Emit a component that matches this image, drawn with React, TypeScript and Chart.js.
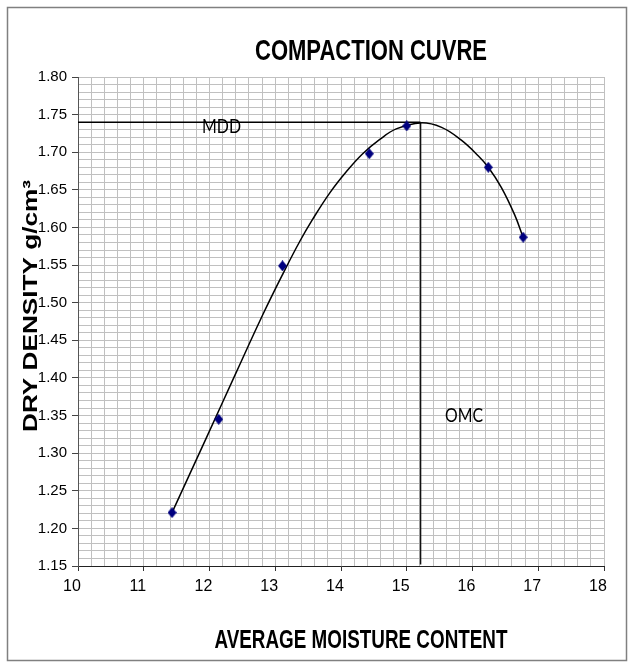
import React, { useEffect, useRef } from 'react';
import { Chart, registerables } from 'chart.js';

Chart.register(...registerables);

// ---- data ----
const moisture = [11.43, 12.14, 13.11, 14.43, 15.0, 16.24, 16.77];
const density = [1.221, 1.345, 1.549, 1.698, 1.735, 1.68, 1.587];

const curveMoisture = [11.43, 11.94, 12.41, 12.81, 13.12, 13.37, 13.57, 13.83, 14.08, 14.33, 14.59, 14.84, 15.21, 15.53, 15.83, 16.09, 16.24, 16.44, 16.64, 16.77];
const curveDensity = [1.221, 1.318, 1.408, 1.484, 1.539, 1.581, 1.611, 1.646, 1.674, 1.698, 1.717, 1.731, 1.739, 1.733, 1.716, 1.695, 1.68, 1.653, 1.617, 1.587];

const mddValue = 1.74;
const omcValue = 15.21;

const xMin = 10;
const xMax = 18;
const xMinorStep = 0.2;
const xMajorStep = 1;
const yMin = 1.15;
const yMax = 1.8;
const yMinorStep = 0.01;
const yMajorStep = 0.05;

const titleText = 'COMPACTION CUVRE';
const xTitleText = 'AVERAGE MOISTURE CONTENT';
const yTitleText = 'DRY DENSITY g/cm\u00B3';
const mddText = 'MDD';
const omcText = 'OMC';

const W = 633;
const H = 668;

function isMajor(v: number, step: number) {
  const r = v / step;
  return Math.abs(r - Math.round(r)) < 1e-6;
}

function drawFitText(
  ctx: CanvasRenderingContext2D,
  text: string,
  x: number,
  y: number,
  font: string,
  targetWidth: number,
  align: CanvasTextAlign,
  rotate: boolean
) {
  ctx.save();
  ctx.font = font;
  const w = ctx.measureText(text).width;
  const sx = targetWidth / w;
  ctx.translate(x, y);
  if (rotate) ctx.rotate(-Math.PI / 2);
  ctx.scale(sx, 1);
  ctx.textAlign = align;
  ctx.textBaseline = 'alphabetic';
  ctx.fillStyle = '#000';
  ctx.fillText(text, 0, 0);
  ctx.restore();
}

const decorPlugin = {
  id: 'decor',
  beforeDraw(chart: any) {
    const ctx = chart.ctx as CanvasRenderingContext2D;
    ctx.save();
    ctx.fillStyle = '#fff';
    ctx.fillRect(0, 0, chart.width, chart.height);
    ctx.restore();
  },
  afterDraw(chart: any) {
    const ctx = chart.ctx as CanvasRenderingContext2D;
    ctx.save();
    ctx.strokeStyle = '#808080';
    ctx.lineWidth = 1.5;
    ctx.strokeRect(7.5, 7.5, 619, 653);
    ctx.restore();

    const sans = "'Liberation Sans', Arial, sans-serif";
    drawFitText(ctx, titleText, 371, 60, `bold 30px ${sans}`, 232, 'center', false);
    drawFitText(ctx, xTitleText, 361, 648, `bold 25px ${sans}`, 293, 'center', false);
    drawFitText(ctx, yTitleText, 36.7, 306, `bold 21px ${sans}`, 252, 'center', true);
    drawFitText(ctx, mddText, 202, 132.5, `19px Lato, 'Open Sans', sans-serif`, 39, 'left', false);
    drawFitText(ctx, omcText, 445, 421.7, `20px Lato, 'Open Sans', sans-serif`, 38, 'left', false);
  },
};

function makeDiamond(): HTMLCanvasElement {
  const c = document.createElement('canvas');
  c.width = 9;
  c.height = 11;
  const g = c.getContext('2d')!;
  g.fillStyle = '#00007f';
  g.beginPath();
  g.moveTo(4.5, 0);
  g.lineTo(9, 5.5);
  g.lineTo(4.5, 11);
  g.lineTo(0, 5.5);
  g.closePath();
  g.fill();
  return c;
}

export default function App() {
  const ref = useRef<HTMLCanvasElement | null>(null);

  useEffect(() => {
    if (!ref.current) return;
    const tickFont = { family: "'Liberation Sans Narrow', 'Liberation Sans', Arial, sans-serif", size: 15 };
    const diamond = makeDiamond();

    const chart = new Chart(ref.current, {
      type: 'scatter',
      data: {
        datasets: [
          {
            label: 'points',
            data: moisture.map((x, i) => ({ x, y: density[i] })),
            pointStyle: diamond as any,
            pointRadius: 5,
            showLine: false,
            backgroundColor: '#00007f',
            borderColor: '#00007f',
          },
          {
            label: 'curve',
            data: curveMoisture.map((x, i) => ({ x, y: curveDensity[i] })),
            showLine: true,
            pointRadius: 0,
            borderColor: '#000',
            borderWidth: 1.5,
            tension: 0.4,
            fill: false,
          },
          {
            label: 'MDD',
            data: [
              { x: xMin, y: mddValue },
              { x: omcValue, y: mddValue },
            ],
            showLine: true,
            pointRadius: 0,
            borderColor: '#000',
            borderWidth: 1.5,
          },
          {
            label: 'OMC',
            data: [
              { x: omcValue, y: mddValue },
              { x: omcValue, y: yMin + 0.002 },
            ],
            showLine: true,
            pointRadius: 0,
            borderColor: '#111',
            borderWidth: 1.5,
          },
        ] as any,
      },
      options: {
        animation: false,
        responsive: false,
        devicePixelRatio: 1,
        layout: { padding: { top: 77, right: 29, bottom: 0, left: 0 } },
        plugins: {
          legend: { display: false },
          tooltip: { enabled: false },
          title: { display: false },
        },
        scales: {
          x: {
            type: 'linear',
            min: xMin,
            max: xMax,
            ticks: {
              stepSize: xMinorStep,
              autoSkip: false,
              maxRotation: 0,
              minRotation: 0,
              padding: 6,
              labelOffset: -6,
              color: '#000',
              font: { ...tickFont, size: 16 },
              callback: (v: any) => (isMajor(Number(v), xMajorStep) ? String(Math.round(Number(v))) : ''),
            },
            grid: {
              color: '#c0c0c0',
              lineWidth: 1,
              tickLength: 5,
              tickColor: (c: any) => (c.tick && isMajor(c.tick.value, xMajorStep) ? '#333' : 'rgba(0,0,0,0)'),
            },
            border: { color: '#222', width: 1 },
            afterFit: (s: any) => {
              s.height = H - 566;
            },
          },
          y: {
            type: 'linear',
            min: yMin,
            max: yMax,
            ticks: {
              stepSize: yMinorStep,
              autoSkip: false,
              padding: 5,
              color: '#000',
              font: tickFont,
              callback: (v: any) => (isMajor(Number(v), yMajorStep) ? Number(v).toFixed(2) : ''),
            },
            grid: {
              color: '#c0c0c0',
              lineWidth: 1,
              tickLength: 6,
              tickColor: (c: any) => (c.tick && isMajor(c.tick.value, yMajorStep) ? '#444' : 'rgba(0,0,0,0)'),
            },
            border: { color: '#555', width: 1 },
            afterFit: (s: any) => {
              s.width = 78;
            },
          },
        },
      } as any,
      plugins: [decorPlugin],
    });

    return () => chart.destroy();
  }, []);

  return (
    <div style={{ position: 'absolute', left: 0, top: 0, width: W, height: H }}>
      <canvas ref={ref} width={W} height={H} style={{ width: W, height: H, display: 'block' }} />
    </div>
  );
}
